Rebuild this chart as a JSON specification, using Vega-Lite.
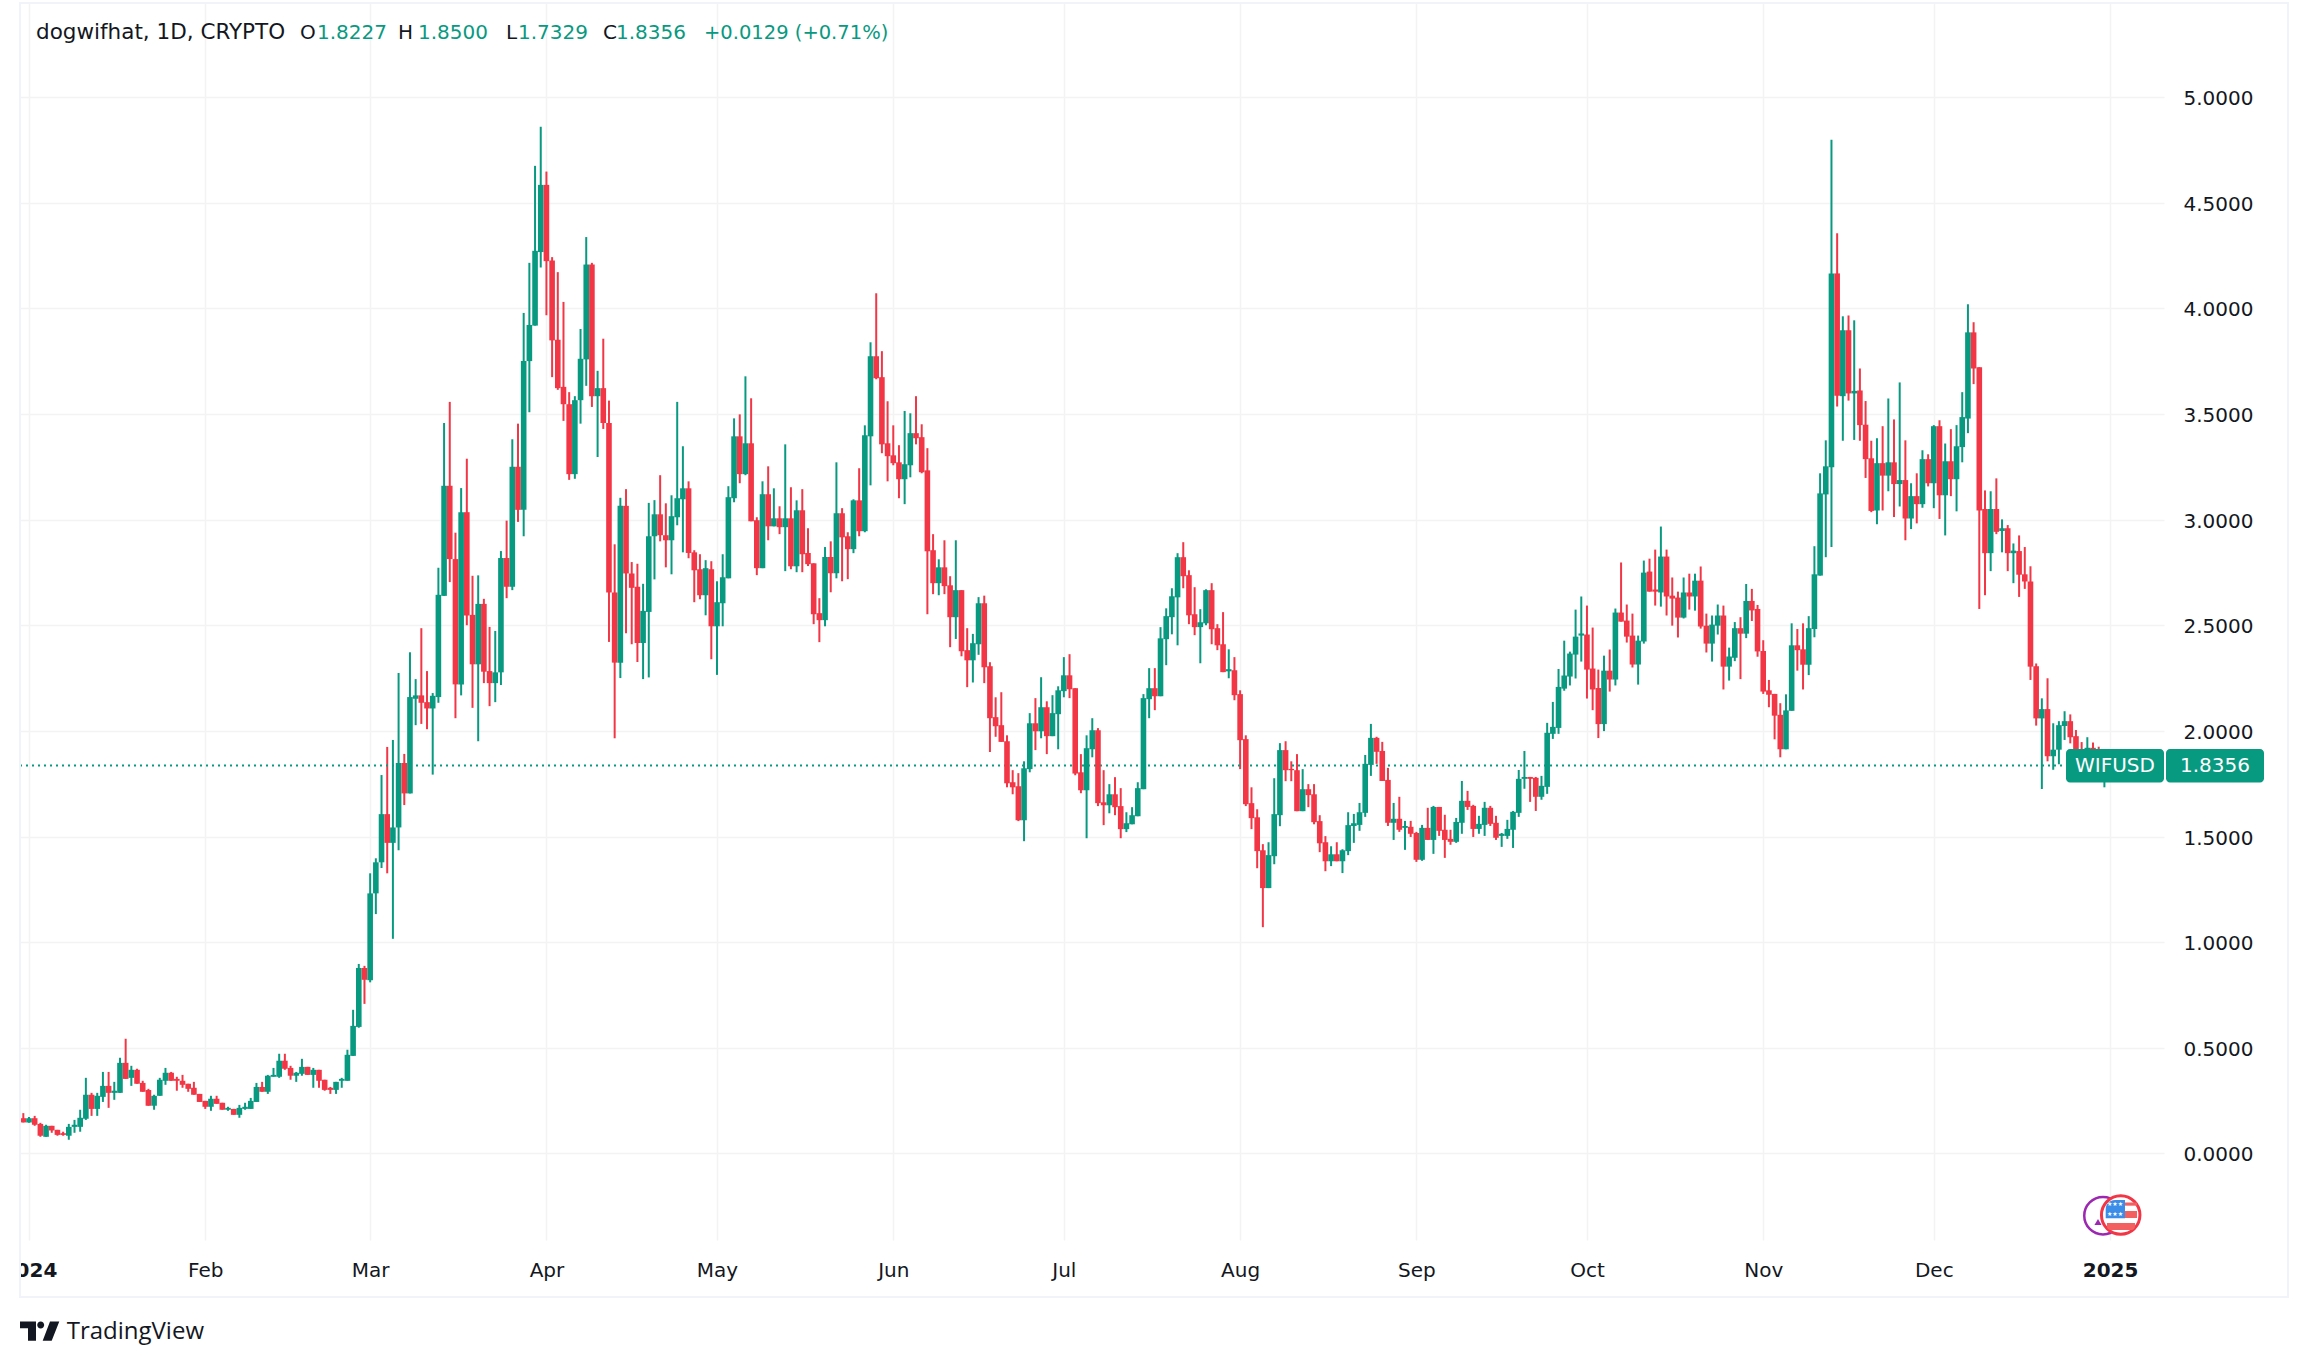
{"$schema":"https://vega.github.io/schema/vega-lite/v6.json","width":2144,"height":1237,"autosize":{"type":"none"},"padding":{"left":20,"top":3,"right":144,"bottom":127},"background":"#ffffff","view":{"stroke":null},"config":{"font":"DejaVu Sans","axis":{"labelFont":"DejaVu Sans","labelColor":"#131722"}},"resolve":{"axis":{"x":"independent","y":"independent"}},"datasets":{"ohlc":[
{"date":"2023-12-31","o":0.167,"h":0.191,"l":0.147,"c":0.147},
{"date":"2024-01-01","o":0.147,"h":0.173,"l":0.145,"c":0.167},
{"date":"2024-01-02","o":0.167,"h":0.178,"l":0.131,"c":0.136},
{"date":"2024-01-03","o":0.140,"h":0.145,"l":0.079,"c":0.084},
{"date":"2024-01-04","o":0.079,"h":0.136,"l":0.079,"c":0.131},
{"date":"2024-01-05","o":0.131,"h":0.131,"l":0.098,"c":0.109},
{"date":"2024-01-06","o":0.112,"h":0.112,"l":0.084,"c":0.088},
{"date":"2024-01-07","o":0.096,"h":0.103,"l":0.084,"c":0.088},
{"date":"2024-01-08","o":0.084,"h":0.140,"l":0.065,"c":0.126},
{"date":"2024-01-09","o":0.126,"h":0.159,"l":0.098,"c":0.136},
{"date":"2024-01-10","o":0.126,"h":0.207,"l":0.103,"c":0.169},
{"date":"2024-01-11","o":0.164,"h":0.358,"l":0.159,"c":0.278},
{"date":"2024-01-12","o":0.278,"h":0.287,"l":0.178,"c":0.211},
{"date":"2024-01-13","o":0.211,"h":0.287,"l":0.178,"c":0.273},
{"date":"2024-01-14","o":0.268,"h":0.386,"l":0.244,"c":0.320},
{"date":"2024-01-15","o":0.320,"h":0.386,"l":0.216,"c":0.287},
{"date":"2024-01-16","o":0.287,"h":0.339,"l":0.254,"c":0.297},
{"date":"2024-01-17","o":0.287,"h":0.453,"l":0.287,"c":0.429},
{"date":"2024-01-18","o":0.429,"h":0.543,"l":0.353,"c":0.353},
{"date":"2024-01-19","o":0.358,"h":0.415,"l":0.320,"c":0.396},
{"date":"2024-01-20","o":0.396,"h":0.401,"l":0.330,"c":0.330},
{"date":"2024-01-21","o":0.334,"h":0.344,"l":0.292,"c":0.292},
{"date":"2024-01-22","o":0.301,"h":0.306,"l":0.226,"c":0.226},
{"date":"2024-01-23","o":0.226,"h":0.278,"l":0.207,"c":0.273},
{"date":"2024-01-24","o":0.273,"h":0.358,"l":0.273,"c":0.349},
{"date":"2024-01-25","o":0.344,"h":0.405,"l":0.325,"c":0.382},
{"date":"2024-01-26","o":0.382,"h":0.386,"l":0.344,"c":0.344},
{"date":"2024-01-27","o":0.353,"h":0.363,"l":0.297,"c":0.344},
{"date":"2024-01-28","o":0.344,"h":0.372,"l":0.311,"c":0.325},
{"date":"2024-01-29","o":0.330,"h":0.330,"l":0.292,"c":0.306},
{"date":"2024-01-30","o":0.311,"h":0.339,"l":0.278,"c":0.278},
{"date":"2024-01-31","o":0.282,"h":0.282,"l":0.244,"c":0.244},
{"date":"2024-02-01","o":0.249,"h":0.249,"l":0.211,"c":0.221},
{"date":"2024-02-02","o":0.221,"h":0.273,"l":0.202,"c":0.259},
{"date":"2024-02-03","o":0.259,"h":0.273,"l":0.235,"c":0.235},
{"date":"2024-02-04","o":0.240,"h":0.240,"l":0.207,"c":0.207},
{"date":"2024-02-05","o":0.207,"h":0.221,"l":0.202,"c":0.216},
{"date":"2024-02-06","o":0.211,"h":0.211,"l":0.183,"c":0.183},
{"date":"2024-02-07","o":0.183,"h":0.230,"l":0.169,"c":0.216},
{"date":"2024-02-08","o":0.211,"h":0.240,"l":0.207,"c":0.221},
{"date":"2024-02-09","o":0.211,"h":0.263,"l":0.211,"c":0.249},
{"date":"2024-02-10","o":0.244,"h":0.334,"l":0.244,"c":0.315},
{"date":"2024-02-11","o":0.315,"h":0.339,"l":0.292,"c":0.292},
{"date":"2024-02-12","o":0.292,"h":0.372,"l":0.282,"c":0.368},
{"date":"2024-02-13","o":0.363,"h":0.405,"l":0.363,"c":0.372},
{"date":"2024-02-14","o":0.363,"h":0.472,"l":0.358,"c":0.439},
{"date":"2024-02-15","o":0.439,"h":0.472,"l":0.396,"c":0.401},
{"date":"2024-02-16","o":0.405,"h":0.415,"l":0.349,"c":0.368},
{"date":"2024-02-17","o":0.368,"h":0.386,"l":0.339,"c":0.382},
{"date":"2024-02-18","o":0.377,"h":0.448,"l":0.368,"c":0.410},
{"date":"2024-02-19","o":0.410,"h":0.410,"l":0.372,"c":0.372},
{"date":"2024-02-20","o":0.372,"h":0.405,"l":0.311,"c":0.396},
{"date":"2024-02-21","o":0.396,"h":0.396,"l":0.311,"c":0.344},
{"date":"2024-02-22","o":0.349,"h":0.349,"l":0.297,"c":0.301},
{"date":"2024-02-23","o":0.311,"h":0.315,"l":0.282,"c":0.301},
{"date":"2024-02-24","o":0.301,"h":0.339,"l":0.282,"c":0.339},
{"date":"2024-02-25","o":0.344,"h":0.358,"l":0.311,"c":0.353},
{"date":"2024-02-26","o":0.344,"h":0.491,"l":0.344,"c":0.467},
{"date":"2024-02-27","o":0.462,"h":0.680,"l":0.462,"c":0.604},
{"date":"2024-02-28","o":0.599,"h":0.897,"l":0.595,"c":0.878},
{"date":"2024-02-29","o":0.878,"h":0.888,"l":0.708,"c":0.822},
{"date":"2024-03-01","o":0.820,"h":1.326,"l":0.810,"c":1.231},
{"date":"2024-03-02","o":1.231,"h":1.397,"l":1.133,"c":1.378},
{"date":"2024-03-03","o":1.378,"h":1.791,"l":1.351,"c":1.606},
{"date":"2024-03-04","o":1.606,"h":1.924,"l":1.326,"c":1.470},
{"date":"2024-03-05","o":1.470,"h":1.957,"l":1.016,"c":1.543},
{"date":"2024-03-06","o":1.543,"h":2.274,"l":1.435,"c":1.848},
{"date":"2024-03-07","o":1.848,"h":1.891,"l":1.649,"c":1.704},
{"date":"2024-03-08","o":1.704,"h":2.372,"l":1.704,"c":2.160},
{"date":"2024-03-09","o":2.152,"h":2.245,"l":2.027,"c":2.168},
{"date":"2024-03-10","o":2.168,"h":2.486,"l":2.033,"c":2.133},
{"date":"2024-03-11","o":2.136,"h":2.283,"l":2.008,"c":2.106},
{"date":"2024-03-12","o":2.106,"h":2.179,"l":1.793,"c":2.166},
{"date":"2024-03-13","o":2.160,"h":2.772,"l":2.133,"c":2.644},
{"date":"2024-03-14","o":2.639,"h":3.457,"l":2.639,"c":3.160},
{"date":"2024-03-15","o":3.160,"h":3.557,"l":2.704,"c":2.813},
{"date":"2024-03-16","o":2.813,"h":2.938,"l":2.060,"c":2.220},
{"date":"2024-03-17","o":2.220,"h":3.149,"l":2.168,"c":3.035},
{"date":"2024-03-18","o":3.035,"h":3.288,"l":2.500,"c":2.546},
{"date":"2024-03-19","o":2.549,"h":2.734,"l":2.109,"c":2.315},
{"date":"2024-03-20","o":2.315,"h":2.736,"l":1.951,"c":2.601},
{"date":"2024-03-21","o":2.601,"h":2.625,"l":2.226,"c":2.280},
{"date":"2024-03-22","o":2.283,"h":2.492,"l":2.117,"c":2.226},
{"date":"2024-03-23","o":2.226,"h":2.473,"l":2.136,"c":2.277},
{"date":"2024-03-24","o":2.277,"h":2.851,"l":2.217,"c":2.818},
{"date":"2024-03-25","o":2.818,"h":2.995,"l":2.628,"c":2.682},
{"date":"2024-03-26","o":2.682,"h":3.380,"l":2.666,"c":3.250},
{"date":"2024-03-27","o":3.250,"h":3.454,"l":2.989,"c":3.046},
{"date":"2024-03-28","o":3.046,"h":3.978,"l":2.921,"c":3.750},
{"date":"2024-03-29","o":3.750,"h":4.215,"l":3.508,"c":3.921},
{"date":"2024-03-30","o":3.918,"h":4.674,"l":3.918,"c":4.272},
{"date":"2024-03-31","o":4.266,"h":4.859,"l":4.193,"c":4.584},
{"date":"2024-04-01","o":4.584,"h":4.647,"l":3.967,"c":4.223},
{"date":"2024-04-02","o":4.226,"h":4.242,"l":3.674,"c":3.848},
{"date":"2024-04-03","o":3.851,"h":4.171,"l":3.614,"c":3.622},
{"date":"2024-04-04","o":3.628,"h":4.030,"l":3.467,"c":3.546},
{"date":"2024-04-05","o":3.546,"h":3.603,"l":3.188,"c":3.215},
{"date":"2024-04-06","o":3.215,"h":3.584,"l":3.193,"c":3.565},
{"date":"2024-04-07","o":3.565,"h":3.902,"l":3.454,"c":3.761},
{"date":"2024-04-08","o":3.758,"h":4.337,"l":3.633,"c":4.207},
{"date":"2024-04-09","o":4.207,"h":4.215,"l":3.533,"c":3.584},
{"date":"2024-04-10","o":3.584,"h":3.704,"l":3.296,"c":3.622},
{"date":"2024-04-11","o":3.622,"h":3.856,"l":3.429,"c":3.457},
{"date":"2024-04-12","o":3.457,"h":3.563,"l":2.421,"c":2.655},
{"date":"2024-04-13","o":2.655,"h":2.883,"l":1.965,"c":2.323},
{"date":"2024-04-14","o":2.323,"h":3.103,"l":2.250,"c":3.065},
{"date":"2024-04-15","o":3.065,"h":3.144,"l":2.462,"c":2.745},
{"date":"2024-04-16","o":2.745,"h":2.799,"l":2.410,"c":2.677},
{"date":"2024-04-17","o":2.682,"h":2.791,"l":2.326,"c":2.416},
{"date":"2024-04-18","o":2.416,"h":2.696,"l":2.245,"c":2.568},
{"date":"2024-04-19","o":2.563,"h":3.079,"l":2.253,"c":2.921},
{"date":"2024-04-20","o":2.921,"h":3.092,"l":2.717,"c":3.025},
{"date":"2024-04-21","o":3.025,"h":3.210,"l":2.897,"c":2.926},
{"date":"2024-04-22","o":2.926,"h":3.077,"l":2.774,"c":2.902},
{"date":"2024-04-23","o":2.902,"h":3.115,"l":2.741,"c":3.016},
{"date":"2024-04-24","o":3.011,"h":3.557,"l":2.973,"c":3.101},
{"date":"2024-04-25","o":3.096,"h":3.347,"l":2.845,"c":3.148},
{"date":"2024-04-26","o":3.148,"h":3.181,"l":2.817,"c":2.842},
{"date":"2024-04-27","o":2.845,"h":2.855,"l":2.609,"c":2.760},
{"date":"2024-04-28","o":2.765,"h":2.836,"l":2.623,"c":2.642},
{"date":"2024-04-29","o":2.642,"h":2.808,"l":2.547,"c":2.770},
{"date":"2024-04-30","o":2.765,"h":2.803,"l":2.339,"c":2.495},
{"date":"2024-05-01","o":2.495,"h":2.708,"l":2.265,"c":2.609},
{"date":"2024-05-02","o":2.604,"h":2.836,"l":2.495,"c":2.727},
{"date":"2024-05-03","o":2.722,"h":3.158,"l":2.722,"c":3.106},
{"date":"2024-05-04","o":3.101,"h":3.479,"l":3.082,"c":3.394},
{"date":"2024-05-05","o":3.394,"h":3.498,"l":3.172,"c":3.215},
{"date":"2024-05-06","o":3.215,"h":3.678,"l":3.210,"c":3.361},
{"date":"2024-05-07","o":3.361,"h":3.574,"l":2.992,"c":2.992},
{"date":"2024-05-08","o":2.997,"h":3.011,"l":2.737,"c":2.770},
{"date":"2024-05-09","o":2.770,"h":3.181,"l":2.770,"c":3.120},
{"date":"2024-05-10","o":3.120,"h":3.252,"l":2.902,"c":2.968},
{"date":"2024-05-11","o":2.968,"h":3.148,"l":2.968,"c":3.006},
{"date":"2024-05-12","o":3.006,"h":3.063,"l":2.931,"c":2.964},
{"date":"2024-05-13","o":2.964,"h":3.356,"l":2.756,"c":3.006},
{"date":"2024-05-14","o":3.006,"h":3.153,"l":2.765,"c":2.779},
{"date":"2024-05-15","o":2.779,"h":3.091,"l":2.751,"c":3.044},
{"date":"2024-05-16","o":3.044,"h":3.144,"l":2.751,"c":2.836},
{"date":"2024-05-17","o":2.842,"h":2.959,"l":2.780,"c":2.789},
{"date":"2024-05-18","o":2.793,"h":2.793,"l":2.505,"c":2.552},
{"date":"2024-05-19","o":2.557,"h":2.628,"l":2.420,"c":2.524},
{"date":"2024-05-20","o":2.524,"h":2.870,"l":2.495,"c":2.823},
{"date":"2024-05-21","o":2.823,"h":2.897,"l":2.656,"c":2.746},
{"date":"2024-05-22","o":2.746,"h":3.271,"l":2.722,"c":3.030},
{"date":"2024-05-23","o":3.030,"h":3.054,"l":2.708,"c":2.916},
{"date":"2024-05-24","o":2.921,"h":2.940,"l":2.718,"c":2.860},
{"date":"2024-05-25","o":2.860,"h":3.096,"l":2.841,"c":3.091},
{"date":"2024-05-26","o":3.091,"h":3.243,"l":2.921,"c":2.945},
{"date":"2024-05-27","o":2.945,"h":3.446,"l":2.940,"c":3.399},
{"date":"2024-05-28","o":3.394,"h":3.839,"l":3.162,"c":3.773},
{"date":"2024-05-29","o":3.773,"h":4.071,"l":3.664,"c":3.669},
{"date":"2024-05-30","o":3.674,"h":3.797,"l":3.314,"c":3.356},
{"date":"2024-05-31","o":3.361,"h":3.560,"l":3.181,"c":3.300},
{"date":"2024-06-01","o":3.304,"h":3.446,"l":3.257,"c":3.267},
{"date":"2024-06-02","o":3.271,"h":3.352,"l":3.101,"c":3.191},
{"date":"2024-06-03","o":3.191,"h":3.514,"l":3.073,"c":3.262},
{"date":"2024-06-04","o":3.257,"h":3.503,"l":3.200,"c":3.409},
{"date":"2024-06-05","o":3.409,"h":3.584,"l":3.356,"c":3.385},
{"date":"2024-06-06","o":3.390,"h":3.451,"l":3.219,"c":3.224},
{"date":"2024-06-07","o":3.233,"h":3.338,"l":2.552,"c":2.850},
{"date":"2024-06-08","o":2.855,"h":2.931,"l":2.647,"c":2.699},
{"date":"2024-06-09","o":2.699,"h":2.812,"l":2.642,"c":2.774},
{"date":"2024-06-10","o":2.774,"h":2.902,"l":2.647,"c":2.685},
{"date":"2024-06-11","o":2.689,"h":2.732,"l":2.396,"c":2.538},
{"date":"2024-06-12","o":2.538,"h":2.902,"l":2.435,"c":2.666},
{"date":"2024-06-13","o":2.666,"h":2.666,"l":2.353,"c":2.377},
{"date":"2024-06-14","o":2.382,"h":2.486,"l":2.207,"c":2.334},
{"date":"2024-06-15","o":2.334,"h":2.459,"l":2.229,"c":2.415},
{"date":"2024-06-16","o":2.410,"h":2.633,"l":2.360,"c":2.604},
{"date":"2024-06-17","o":2.604,"h":2.640,"l":2.226,"c":2.301},
{"date":"2024-06-18","o":2.306,"h":2.325,"l":1.900,"c":2.060},
{"date":"2024-06-19","o":2.065,"h":2.159,"l":1.972,"c":2.022},
{"date":"2024-06-20","o":2.027,"h":2.183,"l":1.948,"c":1.948},
{"date":"2024-06-21","o":1.951,"h":1.979,"l":1.733,"c":1.752},
{"date":"2024-06-22","o":1.757,"h":1.814,"l":1.700,"c":1.733},
{"date":"2024-06-23","o":1.738,"h":1.800,"l":1.573,"c":1.577},
{"date":"2024-06-24","o":1.577,"h":1.856,"l":1.478,"c":1.823},
{"date":"2024-06-25","o":1.819,"h":2.084,"l":1.804,"c":2.036},
{"date":"2024-06-26","o":2.036,"h":2.155,"l":1.909,"c":1.998},
{"date":"2024-06-27","o":1.998,"h":2.254,"l":1.965,"c":2.112},
{"date":"2024-06-28","o":2.112,"h":2.140,"l":1.890,"c":1.975},
{"date":"2024-06-29","o":1.975,"h":2.169,"l":1.975,"c":2.084},
{"date":"2024-06-30","o":2.079,"h":2.211,"l":1.913,"c":2.192},
{"date":"2024-07-01","o":2.188,"h":2.349,"l":2.159,"c":2.263},
{"date":"2024-07-02","o":2.263,"h":2.363,"l":2.155,"c":2.197},
{"date":"2024-07-03","o":2.202,"h":2.202,"l":1.790,"c":1.798},
{"date":"2024-07-04","o":1.804,"h":1.890,"l":1.705,"c":1.719},
{"date":"2024-07-05","o":1.719,"h":1.979,"l":1.492,"c":1.918},
{"date":"2024-07-06","o":1.913,"h":2.060,"l":1.875,"c":2.003},
{"date":"2024-07-07","o":2.003,"h":2.013,"l":1.644,"c":1.658},
{"date":"2024-07-08","o":1.662,"h":1.814,"l":1.554,"c":1.648},
{"date":"2024-07-09","o":1.648,"h":1.748,"l":1.610,"c":1.700},
{"date":"2024-07-10","o":1.700,"h":1.781,"l":1.601,"c":1.639},
{"date":"2024-07-11","o":1.644,"h":1.729,"l":1.492,"c":1.535},
{"date":"2024-07-12","o":1.535,"h":1.615,"l":1.521,"c":1.563},
{"date":"2024-07-13","o":1.558,"h":1.639,"l":1.558,"c":1.601},
{"date":"2024-07-14","o":1.596,"h":1.757,"l":1.596,"c":1.729},
{"date":"2024-07-15","o":1.724,"h":2.174,"l":1.724,"c":2.155},
{"date":"2024-07-16","o":2.150,"h":2.297,"l":2.060,"c":2.202},
{"date":"2024-07-17","o":2.202,"h":2.297,"l":2.098,"c":2.164},
{"date":"2024-07-18","o":2.164,"h":2.491,"l":2.164,"c":2.438},
{"date":"2024-07-19","o":2.434,"h":2.580,"l":2.311,"c":2.543},
{"date":"2024-07-20","o":2.538,"h":2.675,"l":2.457,"c":2.637},
{"date":"2024-07-21","o":2.632,"h":2.841,"l":2.405,"c":2.822},
{"date":"2024-07-22","o":2.822,"h":2.893,"l":2.675,"c":2.732},
{"date":"2024-07-23","o":2.737,"h":2.760,"l":2.505,"c":2.547},
{"date":"2024-07-24","o":2.552,"h":2.680,"l":2.453,"c":2.491},
{"date":"2024-07-25","o":2.491,"h":2.576,"l":2.320,"c":2.514},
{"date":"2024-07-26","o":2.509,"h":2.670,"l":2.500,"c":2.666},
{"date":"2024-07-27","o":2.666,"h":2.699,"l":2.410,"c":2.481},
{"date":"2024-07-28","o":2.486,"h":2.505,"l":2.382,"c":2.405},
{"date":"2024-07-29","o":2.410,"h":2.562,"l":2.278,"c":2.278},
{"date":"2024-07-30","o":2.282,"h":2.386,"l":2.249,"c":2.292},
{"date":"2024-07-31","o":2.287,"h":2.349,"l":2.145,"c":2.169},
{"date":"2024-08-01","o":2.174,"h":2.192,"l":1.819,"c":1.956},
{"date":"2024-08-02","o":1.961,"h":1.979,"l":1.644,"c":1.653},
{"date":"2024-08-03","o":1.658,"h":1.733,"l":1.535,"c":1.587},
{"date":"2024-08-04","o":1.591,"h":1.629,"l":1.350,"c":1.431},
{"date":"2024-08-05","o":1.435,"h":1.464,"l":1.071,"c":1.256},
{"date":"2024-08-06","o":1.256,"h":1.473,"l":1.256,"c":1.412},
{"date":"2024-08-07","o":1.407,"h":1.776,"l":1.369,"c":1.606},
{"date":"2024-08-08","o":1.601,"h":1.942,"l":1.549,"c":1.909},
{"date":"2024-08-09","o":1.909,"h":1.951,"l":1.762,"c":1.814},
{"date":"2024-08-10","o":1.820,"h":1.856,"l":1.762,"c":1.814},
{"date":"2024-08-11","o":1.814,"h":1.890,"l":1.620,"c":1.620},
{"date":"2024-08-12","o":1.620,"h":1.819,"l":1.620,"c":1.724},
{"date":"2024-08-13","o":1.724,"h":1.748,"l":1.639,"c":1.696},
{"date":"2024-08-14","o":1.700,"h":1.748,"l":1.558,"c":1.568},
{"date":"2024-08-15","o":1.573,"h":1.601,"l":1.426,"c":1.468},
{"date":"2024-08-16","o":1.473,"h":1.502,"l":1.336,"c":1.383},
{"date":"2024-08-17","o":1.383,"h":1.454,"l":1.360,"c":1.416},
{"date":"2024-08-18","o":1.416,"h":1.473,"l":1.383,"c":1.383},
{"date":"2024-08-19","o":1.383,"h":1.440,"l":1.327,"c":1.435},
{"date":"2024-08-20","o":1.431,"h":1.615,"l":1.412,"c":1.554},
{"date":"2024-08-21","o":1.550,"h":1.607,"l":1.470,"c":1.563},
{"date":"2024-08-22","o":1.555,"h":1.659,"l":1.527,"c":1.615},
{"date":"2024-08-23","o":1.612,"h":1.886,"l":1.593,"c":1.844},
{"date":"2024-08-24","o":1.839,"h":2.033,"l":1.787,"c":1.967},
{"date":"2024-08-25","o":1.967,"h":1.972,"l":1.844,"c":1.901},
{"date":"2024-08-26","o":1.905,"h":1.948,"l":1.763,"c":1.763},
{"date":"2024-08-27","o":1.768,"h":1.825,"l":1.550,"c":1.565},
{"date":"2024-08-28","o":1.565,"h":1.659,"l":1.484,"c":1.584},
{"date":"2024-08-29","o":1.584,"h":1.688,"l":1.522,"c":1.532},
{"date":"2024-08-30","o":1.541,"h":1.574,"l":1.437,"c":1.550},
{"date":"2024-08-31","o":1.546,"h":1.574,"l":1.498,"c":1.513},
{"date":"2024-09-01","o":1.517,"h":1.522,"l":1.380,"c":1.390},
{"date":"2024-09-02","o":1.390,"h":1.555,"l":1.385,"c":1.541},
{"date":"2024-09-03","o":1.541,"h":1.636,"l":1.484,"c":1.484},
{"date":"2024-09-04","o":1.484,"h":1.645,"l":1.418,"c":1.640},
{"date":"2024-09-05","o":1.640,"h":1.640,"l":1.503,"c":1.527},
{"date":"2024-09-06","o":1.532,"h":1.603,"l":1.399,"c":1.484},
{"date":"2024-09-07","o":1.489,"h":1.532,"l":1.461,"c":1.475},
{"date":"2024-09-08","o":1.475,"h":1.588,"l":1.470,"c":1.569},
{"date":"2024-09-09","o":1.565,"h":1.763,"l":1.513,"c":1.669},
{"date":"2024-09-10","o":1.669,"h":1.716,"l":1.626,"c":1.640},
{"date":"2024-09-11","o":1.645,"h":1.650,"l":1.498,"c":1.536},
{"date":"2024-09-12","o":1.536,"h":1.598,"l":1.513,"c":1.560},
{"date":"2024-09-13","o":1.555,"h":1.664,"l":1.503,"c":1.636},
{"date":"2024-09-14","o":1.636,"h":1.645,"l":1.550,"c":1.560},
{"date":"2024-09-15","o":1.565,"h":1.598,"l":1.484,"c":1.494},
{"date":"2024-09-16","o":1.503,"h":1.517,"l":1.451,"c":1.513},
{"date":"2024-09-17","o":1.503,"h":1.579,"l":1.489,"c":1.536},
{"date":"2024-09-18","o":1.532,"h":1.621,"l":1.446,"c":1.617},
{"date":"2024-09-19","o":1.612,"h":1.815,"l":1.593,"c":1.773},
{"date":"2024-09-20","o":1.773,"h":1.905,"l":1.726,"c":1.782},
{"date":"2024-09-21","o":1.782,"h":1.782,"l":1.664,"c":1.773},
{"date":"2024-09-22","o":1.778,"h":1.782,"l":1.621,"c":1.688},
{"date":"2024-09-23","o":1.688,"h":1.787,"l":1.674,"c":1.740},
{"date":"2024-09-24","o":1.735,"h":2.038,"l":1.702,"c":1.991},
{"date":"2024-09-25","o":1.986,"h":2.137,"l":1.962,"c":2.019},
{"date":"2024-09-26","o":2.014,"h":2.293,"l":1.986,"c":2.208},
{"date":"2024-09-27","o":2.200,"h":2.427,"l":2.190,"c":2.262},
{"date":"2024-09-28","o":2.257,"h":2.375,"l":2.215,"c":2.366},
{"date":"2024-09-29","o":2.361,"h":2.574,"l":2.248,"c":2.446},
{"date":"2024-09-30","o":2.451,"h":2.636,"l":2.328,"c":2.461},
{"date":"2024-10-01","o":2.456,"h":2.593,"l":2.153,"c":2.290},
{"date":"2024-10-02","o":2.295,"h":2.489,"l":2.098,"c":2.196},
{"date":"2024-10-03","o":2.203,"h":2.290,"l":1.966,"c":2.032},
{"date":"2024-10-04","o":2.032,"h":2.356,"l":1.999,"c":2.285},
{"date":"2024-10-05","o":2.285,"h":2.385,"l":2.186,"c":2.243},
{"date":"2024-10-06","o":2.243,"h":2.579,"l":2.215,"c":2.560},
{"date":"2024-10-07","o":2.560,"h":2.797,"l":2.517,"c":2.517},
{"date":"2024-10-08","o":2.522,"h":2.598,"l":2.418,"c":2.446},
{"date":"2024-10-09","o":2.451,"h":2.555,"l":2.300,"c":2.314},
{"date":"2024-10-10","o":2.314,"h":2.451,"l":2.219,"c":2.427},
{"date":"2024-10-11","o":2.423,"h":2.806,"l":2.413,"c":2.749},
{"date":"2024-10-12","o":2.754,"h":2.815,"l":2.659,"c":2.659},
{"date":"2024-10-13","o":2.669,"h":2.858,"l":2.593,"c":2.659},
{"date":"2024-10-14","o":2.655,"h":2.967,"l":2.588,"c":2.825},
{"date":"2024-10-15","o":2.825,"h":2.858,"l":2.546,"c":2.636},
{"date":"2024-10-16","o":2.640,"h":2.726,"l":2.498,"c":2.626},
{"date":"2024-10-17","o":2.631,"h":2.659,"l":2.442,"c":2.536},
{"date":"2024-10-18","o":2.536,"h":2.726,"l":2.532,"c":2.655},
{"date":"2024-10-19","o":2.655,"h":2.744,"l":2.574,"c":2.636},
{"date":"2024-10-20","o":2.636,"h":2.744,"l":2.569,"c":2.711},
{"date":"2024-10-21","o":2.711,"h":2.778,"l":2.484,"c":2.494},
{"date":"2024-10-22","o":2.498,"h":2.555,"l":2.371,"c":2.413},
{"date":"2024-10-23","o":2.413,"h":2.546,"l":2.328,"c":2.503},
{"date":"2024-10-24","o":2.498,"h":2.598,"l":2.456,"c":2.546},
{"date":"2024-10-25","o":2.546,"h":2.593,"l":2.196,"c":2.304},
{"date":"2024-10-26","o":2.304,"h":2.394,"l":2.238,"c":2.352},
{"date":"2024-10-27","o":2.346,"h":2.515,"l":2.330,"c":2.486},
{"date":"2024-10-28","o":2.486,"h":2.538,"l":2.245,"c":2.460},
{"date":"2024-10-29","o":2.460,"h":2.695,"l":2.439,"c":2.615},
{"date":"2024-10-30","o":2.615,"h":2.672,"l":2.520,"c":2.570},
{"date":"2024-10-31","o":2.577,"h":2.596,"l":2.351,"c":2.376},
{"date":"2024-11-01","o":2.378,"h":2.429,"l":2.175,"c":2.186},
{"date":"2024-11-02","o":2.192,"h":2.241,"l":2.112,"c":2.171},
{"date":"2024-11-03","o":2.175,"h":2.175,"l":1.960,"c":2.072},
{"date":"2024-11-04","o":2.076,"h":2.131,"l":1.875,"c":1.913},
{"date":"2024-11-05","o":1.913,"h":2.173,"l":1.913,"c":2.097},
{"date":"2024-11-06","o":2.095,"h":2.509,"l":2.095,"c":2.405},
{"date":"2024-11-07","o":2.405,"h":2.482,"l":2.285,"c":2.382},
{"date":"2024-11-08","o":2.386,"h":2.509,"l":2.196,"c":2.313},
{"date":"2024-11-09","o":2.313,"h":2.543,"l":2.264,"c":2.486},
{"date":"2024-11-10","o":2.482,"h":2.874,"l":2.443,"c":2.741},
{"date":"2024-11-11","o":2.735,"h":3.219,"l":2.735,"c":3.124},
{"date":"2024-11-12","o":3.119,"h":3.375,"l":2.822,"c":3.252},
{"date":"2024-11-13","o":3.248,"h":4.798,"l":2.870,"c":4.165},
{"date":"2024-11-14","o":4.165,"h":4.355,"l":3.535,"c":3.586},
{"date":"2024-11-15","o":3.584,"h":3.962,"l":3.373,"c":3.896},
{"date":"2024-11-16","o":3.896,"h":3.966,"l":3.563,"c":3.597},
{"date":"2024-11-17","o":3.597,"h":3.943,"l":3.377,"c":3.609},
{"date":"2024-11-18","o":3.611,"h":3.715,"l":3.373,"c":3.447},
{"date":"2024-11-19","o":3.449,"h":3.561,"l":3.197,"c":3.286},
{"date":"2024-11-20","o":3.290,"h":3.373,"l":3.035,"c":3.041},
{"date":"2024-11-21","o":3.043,"h":3.385,"l":2.978,"c":3.267},
{"date":"2024-11-22","o":3.267,"h":3.442,"l":3.043,"c":3.208},
{"date":"2024-11-23","o":3.208,"h":3.573,"l":3.134,"c":3.271},
{"date":"2024-11-24","o":3.271,"h":3.474,"l":3.012,"c":3.168},
{"date":"2024-11-25","o":3.168,"h":3.649,"l":3.062,"c":3.187},
{"date":"2024-11-26","o":3.187,"h":3.375,"l":2.902,"c":3.005},
{"date":"2024-11-27","o":3.005,"h":3.172,"l":2.955,"c":3.111},
{"date":"2024-11-28","o":3.111,"h":3.219,"l":2.982,"c":3.073},
{"date":"2024-11-29","o":3.073,"h":3.328,"l":3.056,"c":3.286},
{"date":"2024-11-30","o":3.286,"h":3.309,"l":3.157,"c":3.172},
{"date":"2024-12-01","o":3.172,"h":3.447,"l":3.054,"c":3.442},
{"date":"2024-12-02","o":3.442,"h":3.470,"l":3.003,"c":3.115},
{"date":"2024-12-03","o":3.115,"h":3.360,"l":2.925,"c":3.276},
{"date":"2024-12-04","o":3.276,"h":3.428,"l":3.111,"c":3.191},
{"date":"2024-12-05","o":3.191,"h":3.447,"l":3.039,"c":3.347},
{"date":"2024-12-06","o":3.343,"h":3.603,"l":3.271,"c":3.485},
{"date":"2024-12-07","o":3.478,"h":4.019,"l":3.409,"c":3.886},
{"date":"2024-12-08","o":3.886,"h":3.934,"l":3.641,"c":3.715},
{"date":"2024-12-09","o":3.721,"h":3.721,"l":2.577,"c":3.043},
{"date":"2024-12-10","o":3.050,"h":3.138,"l":2.642,"c":2.841},
{"date":"2024-12-11","o":2.841,"h":3.134,"l":2.756,"c":3.050},
{"date":"2024-12-12","o":3.050,"h":3.195,"l":2.931,"c":2.942},
{"date":"2024-12-13","o":2.946,"h":3.001,"l":2.845,"c":2.959},
{"date":"2024-12-14","o":2.959,"h":2.974,"l":2.756,"c":2.841},
{"date":"2024-12-15","o":2.841,"h":2.887,"l":2.699,"c":2.853},
{"date":"2024-12-16","o":2.851,"h":2.925,"l":2.634,"c":2.739},
{"date":"2024-12-17","o":2.741,"h":2.870,"l":2.672,"c":2.707},
{"date":"2024-12-18","o":2.707,"h":2.779,"l":2.241,"c":2.304},
{"date":"2024-12-19","o":2.306,"h":2.319,"l":2.025,"c":2.059},
{"date":"2024-12-20","o":2.059,"h":2.154,"l":1.725,"c":2.103},
{"date":"2024-12-21","o":2.103,"h":2.249,"l":1.856,"c":1.880},
{"date":"2024-12-22","o":1.880,"h":2.036,"l":1.816,"c":1.911},
{"date":"2024-12-23","o":1.911,"h":2.046,"l":1.842,"c":2.027},
{"date":"2024-12-24","o":2.023,"h":2.093,"l":1.957,"c":2.046},
{"date":"2024-12-25","o":2.046,"h":2.078,"l":1.941,"c":1.970},
{"date":"2024-12-26","o":1.975,"h":2.004,"l":1.890,"c":1.910},
{"date":"2024-12-27","o":1.910,"h":1.947,"l":1.850,"c":1.870},
{"date":"2024-12-28","o":1.880,"h":1.970,"l":1.850,"c":1.920},
{"date":"2024-12-29","o":1.920,"h":1.945,"l":1.850,"c":1.870},
{"date":"2024-12-30","o":1.870,"h":1.925,"l":1.780,"c":1.823},
{"date":"2024-12-31","o":1.8227,"h":1.85,"l":1.7329,"c":1.8356}
]},
"layer":[
{"data":{"name":"ohlc"},"mark":{"type":"rule","strokeWidth":2,"clip":true},"encoding":{
"x":{"field":"date","type":"temporal","title":null,"scale":{"type":"utc","domain":[1703930443056,1736508986160],"nice":false,"padding":0},"axis":{"values":[1704067200000,1706745600000,1709251200000,1711929600000,1714521600000,1717200000000,1719792000000,1722470400000,1725148800000,1727740800000,1730419200000,1733011200000,1735689600000],"labelExpr":"utcmonth(datum.value)==0 ? utcFormat(datum.value,'%Y') : utcFormat(datum.value,'%b')","labelFontSize":20,"labelFontWeight":{"condition":{"test":"utcmonth(datum.value)==0","value":"bold"},"value":"normal"},"labelPadding":20,"labelOverlap":false,"labelBound":false,"labelFlush":false,"ticks":false,"domain":false,"grid":true,"gridColor":"#f3f3f4","gridWidth":1.5,"title":null}},
"y":{"field":"l","type":"quantitative","title":null,"scale":{"domain":[-0.4094,5.4447],"nice":false,"zero":false},"axis":{"orient":"right","values":[0,0.5,1,1.5,2,2.5,3,3.5,4,4.5,5],"format":".4f","labelFontSize":20,"labelPadding":19,"labelAlign":"left","labelOffset":1.5,"ticks":false,"domain":false,"grid":true,"gridColor":"#f3f3f4","gridWidth":1.5,"title":null}},
"y2":{"field":"h"},
"color":{"condition":{"test":"datum.c>=datum.o","value":"#089981"},"value":"#F23645"}}},
{"data":{"values":[{"price":1.8356}]},"mark":{"type":"rule","strokeWidth":2,"strokeDash":[2,4],"color":"#089981"},"encoding":{"y":{"field":"price","type":"quantitative","axis":null}}},
{"data":{"name":"ohlc"},"mark":{"type":"bar","size":5.6,"clip":true},"encoding":{
"x":{"field":"date","type":"temporal","axis":null},
"y":{"field":"o","type":"quantitative","axis":null},
"y2":{"field":"c"},
"color":{"condition":{"test":"datum.c>=datum.o","value":"#089981"},"value":"#F23645"}}},
{"data":{"values":[{"part":"margin"}]},"mark":{"type":"rect","color":"#ffffff"},"encoding":{"x":{"datum":1703626538736,"type":"temporal","axis":null},"x2":{"datum":1703922845448},"y":{"datum":-0.44,"type":"quantitative","axis":null},"y2":{"datum":-0.66}}},
{"data":{"values":[{"part":"frame"}]},"mark":{"type":"rect","fillOpacity":0,"stroke":"#f0f3fa","strokeWidth":2},"encoding":{"x":{"datum":1703930443056,"type":"temporal","axis":null},"x2":{"datum":1738393192944},"y":{"datum":5.4447,"type":"quantitative","axis":null},"y2":{"datum":-0.6791}}},
{"data":{"values":[{"t":"dogwifhat, 1D, CRYPTO"}]},"mark":{"type":"text","align":"left","baseline":"middle","fontSize":21.5,"color":"#131722"},"encoding":{"text":{"field":"t"},"x":{"datum":1704173566512,"type":"temporal","axis":null},"y":{"datum":5.3029,"type":"quantitative","axis":null}}},
{"data":{"values":[{"t":"O"}]},"mark":{"type":"text","align":"left","baseline":"middle","fontSize":20,"color":"#131722"},"encoding":{"text":{"field":"t"},"x":{"datum":1708185103536,"type":"temporal","axis":null},"y":{"datum":5.3029,"type":"quantitative","axis":null}}},
{"data":{"values":[{"t":"1.8227"}]},"mark":{"type":"text","align":"left","baseline":"middle","fontSize":20,"color":"#089981"},"encoding":{"text":{"field":"t"},"x":{"datum":1708443422208,"type":"temporal","axis":null},"y":{"datum":5.3029,"type":"quantitative","axis":null}}},
{"data":{"values":[{"t":"H"}]},"mark":{"type":"text","align":"left","baseline":"middle","fontSize":20,"color":"#131722"},"encoding":{"text":{"field":"t"},"x":{"datum":1709674234704,"type":"temporal","axis":null},"y":{"datum":5.3029,"type":"quantitative","axis":null}}},
{"data":{"values":[{"t":"1.8500"}]},"mark":{"type":"text","align":"left","baseline":"middle","fontSize":20,"color":"#089981"},"encoding":{"text":{"field":"t"},"x":{"datum":1709978139024,"type":"temporal","axis":null},"y":{"datum":5.3029,"type":"quantitative","axis":null}}},
{"data":{"values":[{"t":"L"}]},"mark":{"type":"text","align":"left","baseline":"middle","fontSize":20,"color":"#131722"},"encoding":{"text":{"field":"t"},"x":{"datum":1711315318032,"type":"temporal","axis":null},"y":{"datum":5.3029,"type":"quantitative","axis":null}}},
{"data":{"values":[{"t":"1.7329"}]},"mark":{"type":"text","align":"left","baseline":"middle","fontSize":20,"color":"#089981"},"encoding":{"text":{"field":"t"},"x":{"datum":1711497660624,"type":"temporal","axis":null},"y":{"datum":5.3029,"type":"quantitative","axis":null}}},
{"data":{"values":[{"t":"C"}]},"mark":{"type":"text","align":"left","baseline":"middle","fontSize":20,"color":"#131722"},"encoding":{"text":{"field":"t"},"x":{"datum":1712789253984,"type":"temporal","axis":null},"y":{"datum":5.3029,"type":"quantitative","axis":null}}},
{"data":{"values":[{"t":"1.8356"}]},"mark":{"type":"text","align":"left","baseline":"middle","fontSize":20,"color":"#089981"},"encoding":{"text":{"field":"t"},"x":{"datum":1712986791792,"type":"temporal","axis":null},"y":{"datum":5.3029,"type":"quantitative","axis":null}}},
{"data":{"values":[{"t":"+0.0129 (+0.71%)"}]},"mark":{"type":"text","align":"left","baseline":"middle","fontSize":19.5,"color":"#089981"},"encoding":{"text":{"field":"t"},"x":{"datum":1714323970800,"type":"temporal","axis":null},"y":{"datum":5.3029,"type":"quantitative","axis":null}}},
{"data":{"values":[{"part":"symbol tag"}]},"mark":{"type":"rect","color":"#089981","cornerRadius":4},"encoding":{"x":{"datum":1735019854992,"type":"temporal","axis":null},"x2":{"datum":1736508986160},"y":{"datum":1.9144,"type":"quantitative","axis":null},"y2":{"datum":1.7553}}},
{"data":{"values":[{"part":"price tag"}]},"mark":{"type":"rect","color":"#089981","cornerRadius":4},"encoding":{"x":{"datum":1736539376592,"type":"temporal","axis":null},"x2":{"datum":1738028507760},"y":{"datum":1.9144,"type":"quantitative","axis":null},"y2":{"datum":1.7553}}},
{"data":{"values":[{"t":"WIFUSD"}]},"mark":{"type":"text","align":"center","baseline":"middle","fontSize":20,"color":"#ffffff"},"encoding":{"text":{"field":"t"},"x":{"datum":1735764420576,"type":"temporal","axis":null},"y":{"datum":1.8356,"type":"quantitative","axis":null}}},
{"data":{"values":[{"t":"1.8356"}]},"mark":{"type":"text","align":"center","baseline":"middle","fontSize":20,"color":"#ffffff"},"encoding":{"text":{"field":"t"},"x":{"datum":1737283942176,"type":"temporal","axis":null},"y":{"datum":1.8356,"type":"quantitative","axis":null}}},
{"data":{"values":[{"part":"event ring"}]},"mark":{"type":"point","shape":"circle","size":1406,"filled":false,"fill":"#ffffff","fillOpacity":1,"stroke":"#9c27b0","strokeWidth":2.5,"opacity":1},"encoding":{"x":{"datum":1735582077984,"type":"temporal","axis":null},"y":{"datum":-0.2944,"type":"quantitative","axis":null}}},
{"data":{"values":[{"part":"event glyph"}]},"mark":{"type":"point","shape":"triangle-up","size":50,"filled":true,"color":"#9c27b0","opacity":1},"encoding":{"x":{"datum":1735506101904,"type":"temporal","axis":null},"y":{"datum":-0.3242,"type":"quantitative","axis":null}}},
{"data":{"values":[{"part":"flag ring"}]},"mark":{"type":"point","shape":"circle","size":1482,"filled":false,"fill":"#ffffff","fillOpacity":1,"stroke":"#f23645","strokeWidth":3,"opacity":1},"encoding":{"x":{"datum":1735851033307,"type":"temporal","axis":null},"y":{"datum":-0.2911,"type":"quantitative","axis":null}}},
{"data":{"values":[{"part":"flag blue"}]},"mark":{"type":"rect","color":"#3b8de8","cornerRadiusTopLeft":10},"encoding":{"x":{"datum":1735623105067,"type":"temporal","axis":null},"x2":{"datum":1735916372736},"y":{"datum":-0.2201,"type":"quantitative","axis":null},"y2":{"datum":-0.3067}}},
{"data":{"values":[{"part":"flag stripe"}]},"mark":{"type":"rect","color":"#f2605f"},"encoding":{"x":{"datum":1735916372736,"type":"temporal","axis":null},"x2":{"datum":1736098715328},"y":{"datum":-0.2319,"type":"quantitative","axis":null},"y2":{"datum":-0.2470}}},
{"data":{"values":[{"part":"flag stripe"}]},"mark":{"type":"rect","color":"#f2605f"},"encoding":{"x":{"datum":1735916372736,"type":"temporal","axis":null},"x2":{"datum":1736098715328},"y":{"datum":-0.2721,"type":"quantitative","axis":null},"y2":{"datum":-0.3052}}},
{"data":{"values":[{"part":"flag stripe"}]},"mark":{"type":"rect","color":"#f2605f","cornerRadiusBottomLeft":8,"cornerRadiusBottomRight":8},"encoding":{"x":{"datum":1735642858848,"type":"temporal","axis":null},"x2":{"datum":1736068324896},"y":{"datum":-0.3289,"type":"quantitative","axis":null},"y2":{"datum":-0.3620}}},
{"data":{"values":[{"t":"★★★"}]},"mark":{"type":"text","align":"center","baseline":"middle","fontSize":6,"color":"#ffffff","font":"DejaVu Sans"},"encoding":{"text":{"field":"t"},"x":{"datum":1735764420576,"type":"temporal","axis":null},"y":{"datum":-0.2390,"type":"quantitative","axis":null}}},
{"data":{"values":[{"t":"★★★"}]},"mark":{"type":"text","align":"center","baseline":"middle","fontSize":6,"color":"#ffffff","font":"DejaVu Sans"},"encoding":{"text":{"field":"t"},"x":{"datum":1735764420576,"type":"temporal","axis":null},"y":{"datum":-0.2863,"type":"quantitative","axis":null}}},
{"data":{"values":[{"part":"logo"}]},"mark":{"type":"point","shape":"M-0.4925 -0.2375 H-0.0925 V0.2425 H-0.2925 V-0.0675 H-0.4925 Z M0.2575 -0.2375 H0.49 L0.3 0.2425 H0.075 Z M-0.0625 -0.15 a0.0875 0.0875 0 1 0 0.175 0 a0.0875 0.0875 0 1 0 -0.175 0 Z","size":6400,"filled":true,"color":"#131722","opacity":1},"encoding":{"x":{"datum":1704229788811,"type":"temporal","axis":null},"y":{"datum":-0.84,"type":"quantitative","axis":null}}},
{"data":{"values":[{"t":"TradingView"}]},"mark":{"type":"text","align":"left","baseline":"middle","fontSize":24,"font":"Open Sans","color":"#131722"},"encoding":{"text":{"field":"t"},"x":{"datum":1704640059643,"type":"temporal","axis":null},"y":{"datum":-0.8434,"type":"quantitative","axis":null}}}
]}
